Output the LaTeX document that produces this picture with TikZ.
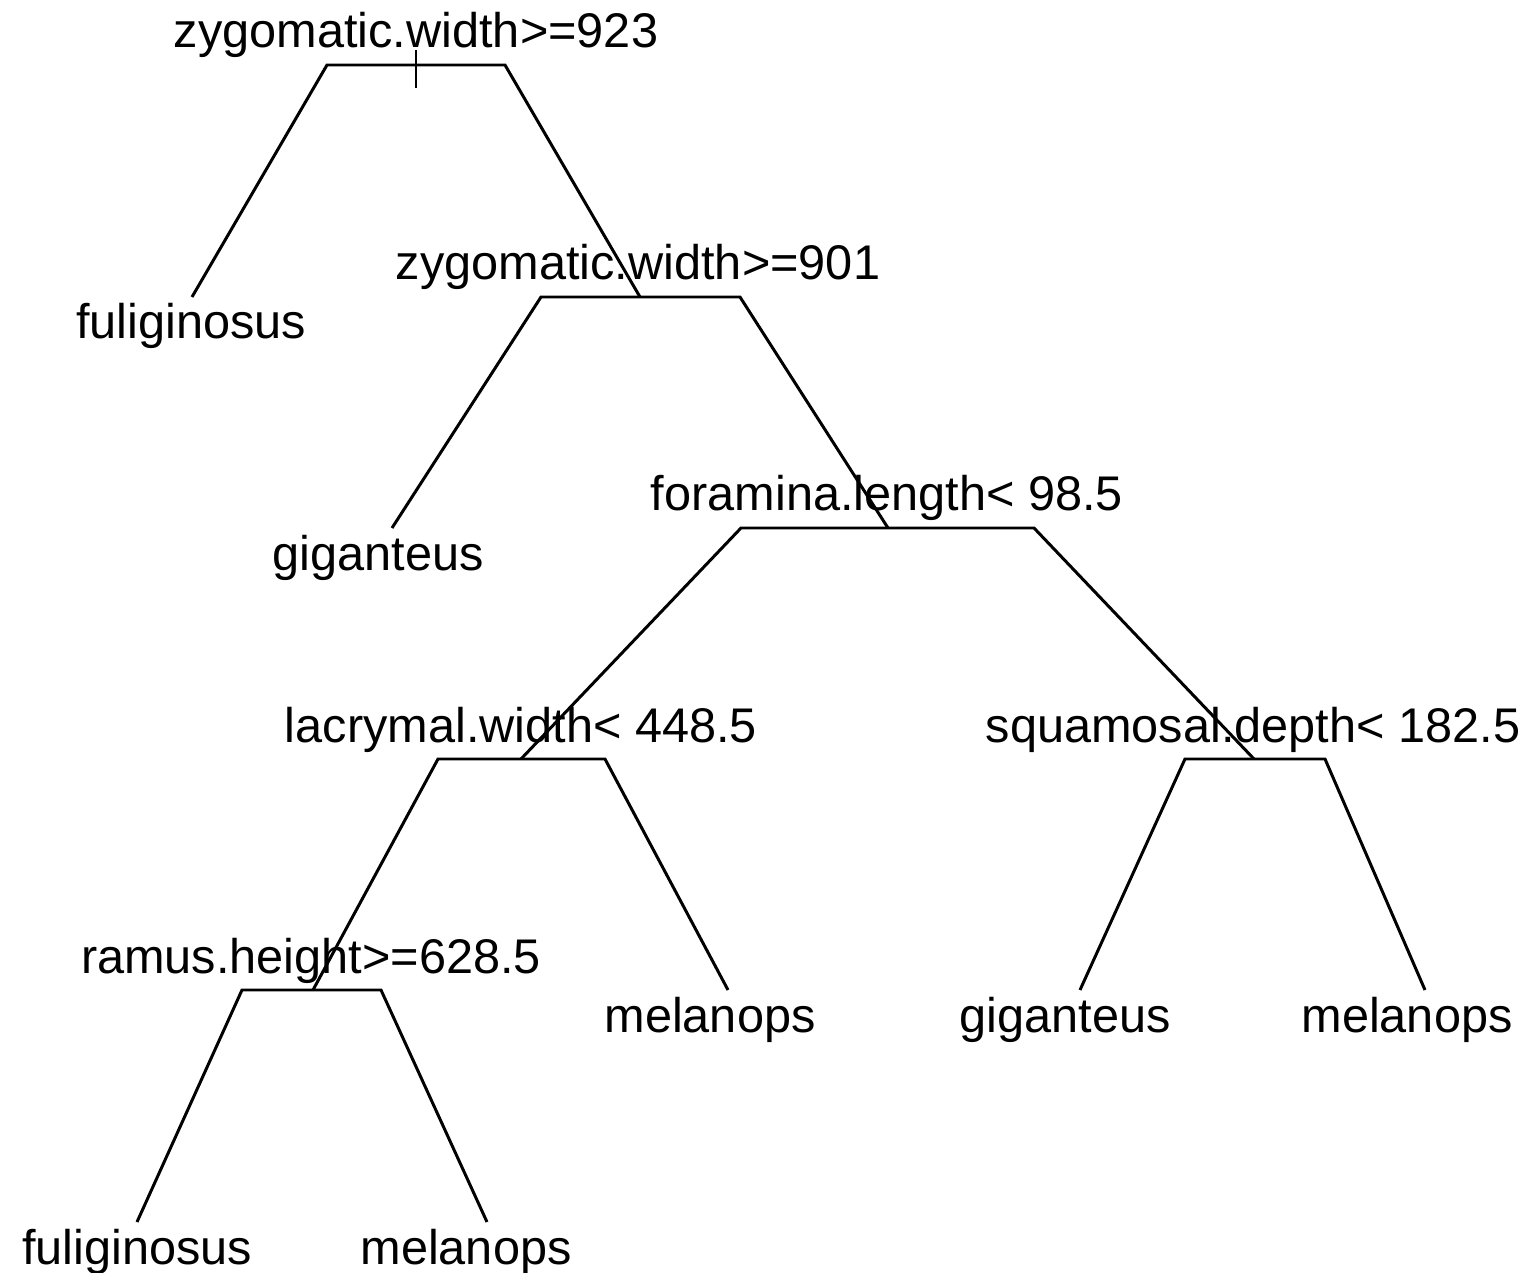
\documentclass[tikz,border=0pt]{standalone}
\usepackage{fontspec}
\setmainfont{Liberation Sans}
\begin{document}
\begin{tikzpicture}[
    x=0.02cm, y=-0.02cm,
    split/.style={anchor=base, inner sep=0pt, font=\fontsize{27.7}{32}\selectfont},
    leaf/.style={anchor=base, inner sep=0pt, font=\fontsize{27.7}{32}\selectfont},
    branch/.style={line width=1.7pt}
]
\path[use as bounding box] (0,0) rectangle (1528,1273);

% Split points and bar ends
\coordinate (zw923) at (416,65);
\coordinate (zw923l) at (327,65);
\coordinate (zw923r) at (505,65);
\coordinate (zw901) at (640,297);
\coordinate (zw901l) at (541,297);
\coordinate (zw901r) at (740,297);
\coordinate (fl985) at (888,528);
\coordinate (fl985l) at (741,528);
\coordinate (fl985r) at (1034,528);
\coordinate (lw4485) at (521,759);
\coordinate (lw4485l) at (438,759);
\coordinate (lw4485r) at (605,759);
\coordinate (sd1825) at (1254,759);
\coordinate (sd1825l) at (1185,759);
\coordinate (sd1825r) at (1325,759);
\coordinate (rh6285) at (313,990);
\coordinate (rh6285l) at (242,990);
\coordinate (rh6285r) at (381,990);

% Leaf points
\coordinate (fulA) at (192,297);
\coordinate (gigA) at (392,528);
\coordinate (melA) at (728,990);
\coordinate (gigB) at (1080,990);
\coordinate (melB) at (1425,990);
\coordinate (fulB) at (137,1222);
\coordinate (melC) at (487,1222);

% Branches
\draw[branch] (zw923) ++(0,-15) -- ++(0,38);
\draw[branch] (fulA) -- (zw923l) -- (zw923r) -- (zw901);
\draw[branch] (gigA) -- (zw901l) -- (zw901r) -- (fl985);
\draw[branch] (lw4485) -- (fl985l) -- (fl985r) -- (sd1825);
\draw[branch] (rh6285) -- (lw4485l) -- (lw4485r) -- (melA);
\draw[branch] (gigB) -- (sd1825l) -- (sd1825r) -- (melB);
\draw[branch] (fulB) -- (rh6285l) -- (rh6285r) -- (melC);

% Split labels
\node[split] (t923) at (416,48) {zygomatic.width>=923};
\node[split] (t901) at (638,280) {zygomatic.width>=901};
\node[split] (t985) at (887,511) {foramina.length< 98.5};
\node[split] (t4485) at (521,742) {lacrymal.width< 448.5};
\node[split] (t1825) at (1253,742) {squamosal.depth< 182.5};
\node[split] (t6285) at (311,973) {ramus.height>=628.5};

% Leaf labels
\node[leaf] (lfulA) at (191,339) {fuliginosus};
\node[leaf] (lgigA) at (378,570) {giganteus};
\node[leaf] (lmelA) at (710,1032) {melanops};
\node[leaf] (lgigB) at (1065,1032) {giganteus};
\node[leaf] (lmelB) at (1407,1032) {melanops};
\node[leaf] (lfulB) at (137,1264) {fuliginosus};
\node[leaf] (lmelC) at (466,1264) {melanops};
\end{tikzpicture}
\end{document}
